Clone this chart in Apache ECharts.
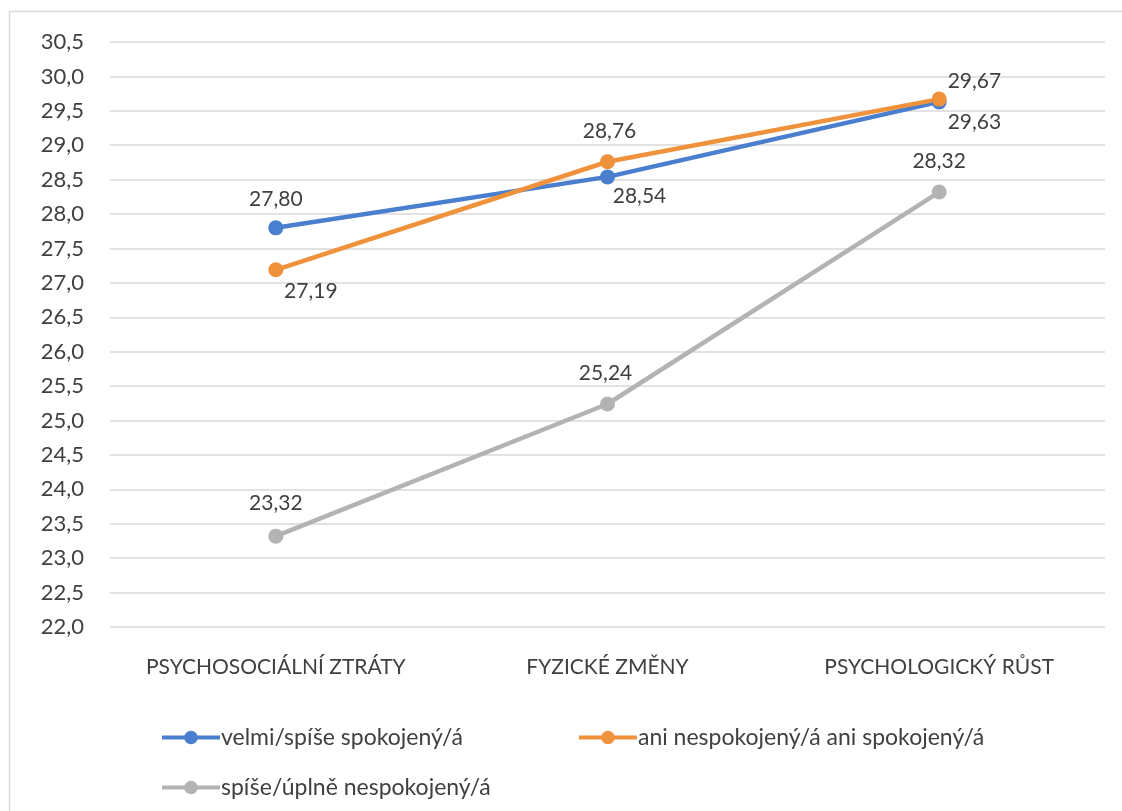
<!DOCTYPE html>
<html>
<head>
<meta charset="utf-8">
<script src="https://cdn.jsdelivr.net/npm/echarts@6/dist/echarts.min.js"></script>
<style>
  html, body { margin: 0; padding: 0; background: #fff; }
  #chart { width: 1122px; height: 811px; }
</style>
</head>
<body>
<div id="chart"></div>
<script>
const categories = ['PSYCHOSOCIÁLNÍ ZTRÁTY', 'FYZICKÉ ZMĚNY', 'PSYCHOLOGICKÝ RŮST'];
const seriesNames = ['velmi/spíše spokojený/á', 'ani nespokojený/á ani spokojený/á', 'spíše/úplně nespokojený/á'];
const satisfied = [27.80, 28.54, 29.63];
const neutral = [27.19, 28.76, 29.67];
const dissatisfied = [23.32, 25.24, 28.32];
const colors = ['#4a7fcf', '#f0913c', '#b3b3b3'];

const font = 'Lato, "Open Sans", sans-serif';
const comma = (v, d) => v.toFixed(d).replace('.', ',');

// where each value label sits relative to its point
const blueLabels = [
    { position: 'top', offset: [0, -6] },
    { position: 'bottom', offset: [32, -4] },
    { position: 'right', offset: [-4, 20] }
];
const orangeLabels = [
    { position: 'bottom', offset: [35, -2] },
    { position: 'top', offset: [2, -8] },
    { position: 'right', offset: [-4, -18] }
];
const greyLabels = [
    { position: 'top', offset: [0, -10] },
    { position: 'top', offset: [-2, -8] },
    { position: 'top', offset: [0, -8] }
];

const makeData = (vals, labels) => vals.map((v, i) => ({ value: v, label: labels[i] }));

const chart = echarts.init(document.getElementById('chart'));

const lineSeries = (name, vals, labels, color) => ({
    name: name,
    type: 'line',
    data: makeData(vals, labels),
    symbol: 'circle',
    symbolSize: 15,
    lineStyle: { width: 4.5, color: color },
    itemStyle: { color: color },
    label: {
        show: true,
        fontSize: 21,
        fontFamily: font,
        color: '#404040',
        formatter: p => comma(p.value, 2)
    },
    emphasis: { disabled: true },
    animation: false
});

const legendText = { fontSize: 23, fontFamily: font, color: '#404040', padding: [0, 0, 0, -4] };

chart.setOption({
    backgroundColor: '#fff',
    graphic: [{
        type: 'rect',
        shape: { x: 9.5, y: 11.5, width: 1130, height: 820 },
        style: { fill: 'none', stroke: '#d9d9d9', lineWidth: 1.5 },
        silent: true
    }],
    grid: { left: 110, right: 17, top: 42, bottom: 184 },
    legend: [
        {
            data: [seriesNames[0], seriesNames[1]],
            left: 155,
            top: 721,
            itemWidth: 58,
            itemHeight: 17,
            itemGap: 114,
            lineStyle: { width: 4 },
            textStyle: legendText
        },
        {
            data: [seriesNames[2]],
            left: 155,
            top: 771,
            itemWidth: 58,
            itemHeight: 17,
            lineStyle: { width: 4 },
            textStyle: legendText
        }
    ],
    xAxis: {
        type: 'category',
        data: categories,
        boundaryGap: true,
        axisLine: { show: false },
        axisTick: { show: false },
        axisLabel: { interval: 0, fontSize: 21, fontFamily: font, color: '#404040', margin: 30 }
    },
    yAxis: {
        type: 'value',
        min: 22,
        max: 30.5,
        interval: 0.5,
        axisLine: { show: false },
        axisTick: { show: false },
        splitLine: { lineStyle: { color: '#d9d9d9', width: 1.5 } },
        axisLabel: {
            fontSize: 22,
            fontFamily: font,
            color: '#404040',
            margin: 26,
            formatter: v => comma(v, 1)
        }
    },
    series: [
        lineSeries(seriesNames[0], satisfied, blueLabels, colors[0]),
        lineSeries(seriesNames[1], neutral, orangeLabels, colors[1]),
        lineSeries(seriesNames[2], dissatisfied, greyLabels, colors[2])
    ]
});
</script>
</body>
</html>
